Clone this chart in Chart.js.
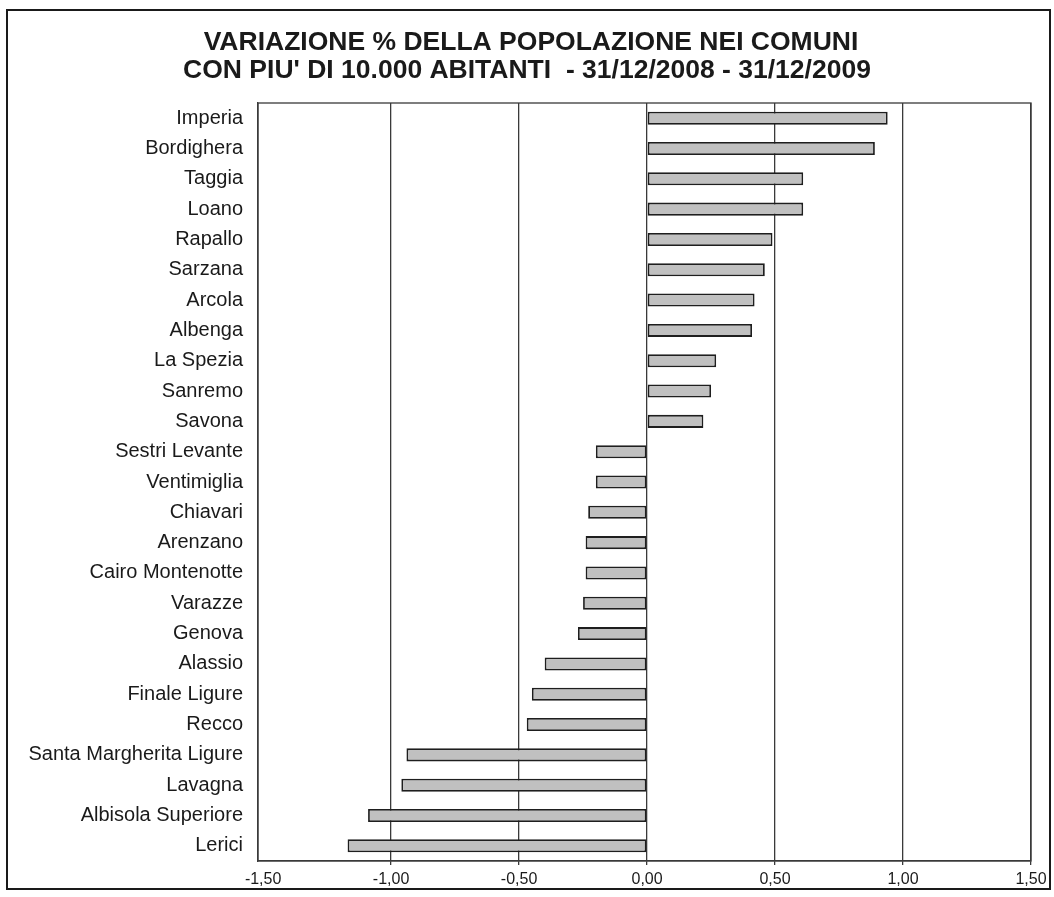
<!DOCTYPE html>
<html>
<head>
<meta charset="utf-8">
<script src="https://cdn.jsdelivr.net/npm/chart.js@4"></script>
<style>
html,body{margin:0;padding:0;background:#fff;}
canvas{display:block;}
</style>
</head>
<body>
<canvas id="c" width="1054" height="897"></canvas>
<script>
const titleLines = ["VARIAZIONE % DELLA POPOLAZIONE NEI COMUNI", "CON PIU' DI 10.000 ABITANTI  - 31/12/2008 - 31/12/2009"];
const comuni = ["Imperia","Bordighera","Taggia","Loano","Rapallo","Sarzana","Arcola","Albenga","La Spezia","Sanremo","Savona","Sestri Levante","Ventimiglia","Chiavari","Arenzano","Cairo Montenotte","Varazze","Genova","Alassio","Finale Ligure","Recco","Santa Margherita Ligure","Lavagna","Albisola Superiore","Lerici"];
const variazione = [0.94,0.89,0.61,0.61,0.49,0.46,0.42,0.41,0.27,0.25,0.22,-0.20,-0.20,-0.23,-0.24,-0.24,-0.25,-0.27,-0.40,-0.45,-0.47,-0.94,-0.96,-1.09,-1.17];
const tickValues = [-1.5,-1.0,-0.5,0,0.5,1.0,1.5];
const xMin = -1.52, xMax = 1.5;

const FONT = "'Liberation Sans', Arial, sans-serif";

const frame = {
  id: 'frame',
  afterDraw(chart) {
    const ctx = chart.ctx, a = chart.chartArea;
    ctx.save();
    ctx.strokeStyle = '#3a3a3a';
    ctx.lineWidth = 1.3;
    ctx.strokeRect(a.left, a.top, a.right - a.left, a.bottom - a.top);
    ctx.strokeStyle = '#1a1a1a';
    ctx.lineWidth = 2;
    ctx.strokeRect(7, 10, 1043, 879);
    ctx.fillStyle = '#1a1a1a';
    ctx.font = 'bold 26.5px ' + FONT;
    ctx.textAlign = 'center';
    ctx.textBaseline = 'alphabetic';
    ctx.fillText(titleLines[0], 531, 50);
    ctx.fillText(titleLines[1], 527, 78);
    ctx.restore();
  }
};

new Chart(document.getElementById('c'), {
  type: 'bar',
  data: {
    labels: comuni,
    datasets: [{
      data: variazione,
      backgroundColor: '#c0c0c0',
      borderColor: '#1e1e1e',
      borderWidth: 1.8,
      borderSkipped: false,
      barPercentage: 0.43,
      categoryPercentage: 1.0
    }]
  },
  options: {
    indexAxis: 'y',
    responsive: false,
    animation: false,
    devicePixelRatio: 1,
    layout: { padding: { left: 0, right: 23, top: 103, bottom: 0 } },
    plugins: {
      legend: { display: false },
      tooltip: { enabled: false },
      title: { display: false }
    },
    scales: {
      x: {
        type: 'linear',
        min: xMin, max: xMax,
        afterBuildTicks: s => { s.ticks = tickValues.map(v => ({ value: v })); },
        ticks: {
          color: '#1a1a1a',
          font: { family: FONT, size: 16 },
          padding: 5,
          maxRotation: 0,
          autoSkip: false,
          callback: v => v.toFixed(2).replace('.', ',')
        },
        grid: {
          color: c => (c.tick && c.tick.value === -1.5) ? 'rgba(0,0,0,0)' : '#3a3a3a',
          lineWidth: 1.3, drawTicks: true, tickLength: 4
        },
        border: { display: true, color: '#3a3a3a', width: 1.3 },
        afterFit: s => { s.height = 36; }
      },
      y: {
        ticks: {
          color: '#1a1a1a',
          font: { family: FONT, size: 20 },
          padding: 15,
          autoSkip: false
        },
        grid: { display: false, drawTicks: false },
        border: { display: true, color: '#3a3a3a', width: 1.3 },
        afterFit: s => { s.width = 258; }
      }
    }
  },
  plugins: [frame]
});
</script>
</body>
</html>
